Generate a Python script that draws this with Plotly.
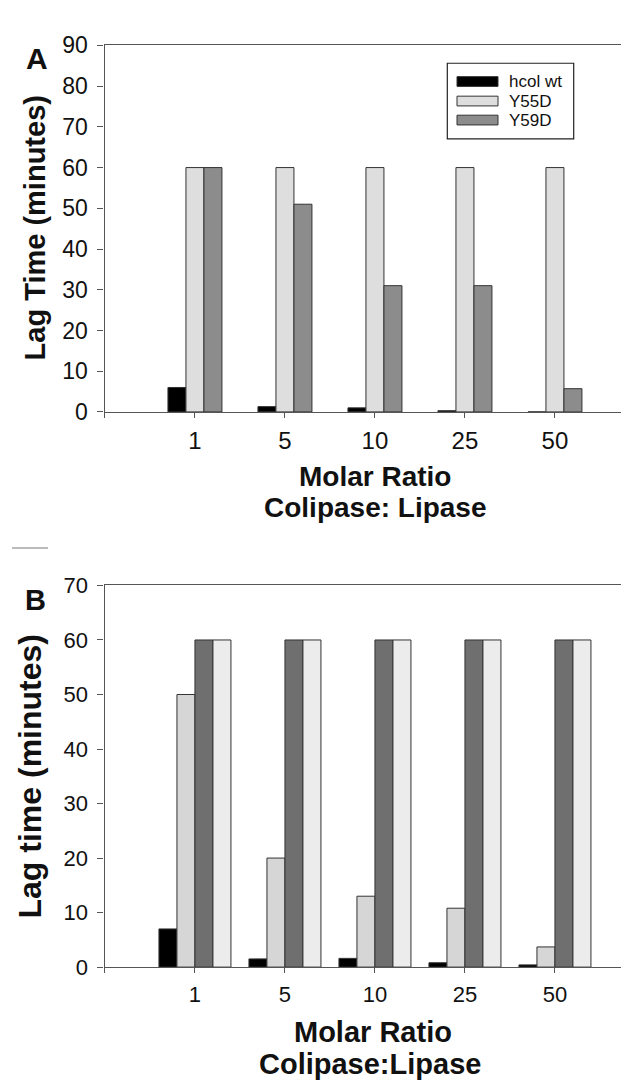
import plotly.graph_objects as go

# ---------------- data ----------------
categories = ["1", "5", "10", "25", "50"]

a_names = ["hcol wt", "Y55D", "Y59D"]
a_hcol_wt = [6, 1.3, 1.0, 0.3, 0]
a_y55d = [60, 60, 60, 60, 60]
a_y59d = [60, 51, 31, 31, 5.7]

b_names = ["hcol wt", "mutant 1", "mutant 2", "mutant 3"]
b_s1 = [7, 1.5, 1.6, 0.8, 0.4]
b_s2 = [50, 20, 13, 10.8, 3.7]
b_s3 = [60, 60, 60, 60, 60]
b_s4 = [60, 60, 60, 60, 60]

a_yticks = list(range(0, 91, 10))
b_yticks = list(range(0, 71, 10))

# ---------------- styling ----------------
W, H = 629, 1086
def px(x):
    return x / W
def py(y):
    return 1 - y / H

a_colors = ["#000000", "#dedede", "#8c8c8c"]
b_colors = ["#000000", "#d6d6d6", "#6f6f6f", "#ececec"]
outline = "#333333"
axis_col = "#555555"
font_main = "Liberation Sans"

x_idx = list(range(len(categories)))
tickvals = [-1] + x_idx
ticktext = [""] + categories

fig = go.Figure()

a_series = [a_hcol_wt, a_y55d, a_y59d]
a_offsets = [-0.3, -0.1, 0.1]
for name, vals, col, off in zip(a_names, a_series, a_colors, a_offsets):
    fig.add_trace(go.Bar(x=x_idx, y=vals, name=name, width=0.2, offset=off,
                         marker=dict(color=col, line=dict(color=outline, width=1)),
                         xaxis="x", yaxis="y", showlegend=False))

b_series = [b_s1, b_s2, b_s3, b_s4]
b_offsets = [-0.4, -0.2, 0.0, 0.2]
for name, vals, col, off in zip(b_names, b_series, b_colors, b_offsets):
    fig.add_trace(go.Bar(x=x_idx, y=vals, name=name, width=0.2, offset=off,
                         marker=dict(color=col, line=dict(color=outline, width=1)),
                         xaxis="x2", yaxis="y2", showlegend=False))

xr = [-1.005, -1.005 + (W - 96.5) / 90.0]

common_x = dict(range=xr, tickmode="array", tickvals=tickvals, ticktext=ticktext,
                ticks="outside", ticklen=5, tickcolor=axis_col, showline=True,
                linecolor=axis_col, linewidth=1.2, mirror=True, showgrid=False,
                zeroline=False, fixedrange=True, ticklabelstandoff=2)
common_y = dict(ticks="outside", ticklen=6, tickcolor=axis_col, showline=True,
                linecolor=axis_col, linewidth=1.2, showgrid=False, zeroline=False,
                tickmode="array", ticklabelstandoff=5)

fig.update_layout(
    width=W, height=H,
    margin=dict(l=0, r=0, t=0, b=0),
    paper_bgcolor="white", plot_bgcolor="white",
    barmode="overlay",
    font=dict(family=font_main, color="#111111"),
    xaxis=dict(domain=[px(96.5), 1], anchor="y",
               tickfont=dict(size=24, family=font_main, color="#111111"),
               **common_x),
    yaxis=dict(domain=[py(400.5), py(25)], anchor="x", range=[0, 90],
               tickvals=a_yticks, tickfont=dict(size=23, family=font_main, color="#111111"),
               **common_y),
    xaxis2=dict(domain=[px(96.5), 1], anchor="y2",
                tickfont=dict(size=22, family=font_main, color="#111111"),
                **common_x),
    yaxis2=dict(domain=[py(969.3), py(578.3)], anchor="x2", range=[0, 70],
                tickvals=b_yticks, tickfont=dict(size=22, family=font_main, color="#111111"),
                **common_y),
)

anns = []
def ann(text, x, y, size, angle=0, xanchor="center"):
    anns.append(dict(text=text, x=px(x), y=py(y), xref="paper", yref="paper",
                     showarrow=False, xanchor=xanchor, yanchor="middle",
                     textangle=angle,
                     font=dict(family=font_main, size=size, color="#111111")))

# panel letters
ann("<b>A</b>", 28.5, 38, 30)
ann("<b>B</b>", 28, 593, 29)
# y titles
ann("<b>Lag Time (minutes)</b>", 27, 212.5, 29, angle=-90)
ann("<b>Lag time (minutes)</b>", 22, 774, 32, angle=-90)
# x titles
ann("<b>Molar Ratio</b>", 367, 466.5, 28)
ann("<b>Colipase: Lipase</b>", 367, 498.5, 28)
ann("<b>Molar Ratio</b>", 365, 1036, 29)
ann("<b>Colipase:Lipase</b>", 362, 1069, 29)

# legend (panel A)
shapes = []
shapes.append(dict(type="rect", xref="paper", yref="paper",
                   x0=px(439.3), x1=px(565.7), y0=py(120.7), y1=py(43.3),
                   line=dict(color="#222222", width=1.2), fillcolor="white"))
row_y = [62, 82, 101.5]
for name, col, ry in zip(a_names, a_colors, row_y):
    shapes.append(dict(type="rect", xref="paper", yref="paper",
                       x0=px(449), x1=px(490), y0=py(ry + 5), y1=py(ry - 5),
                       line=dict(color=outline, width=1), fillcolor=col))
    anns.append(dict(text=name, x=px(499), y=py(ry), xref="paper", yref="paper",
                     showarrow=False, xanchor="left", yanchor="middle",
                     font=dict(family=font_main, size=17, color="#111111")))

# scan artifact dash
shapes.append(dict(type="line", xref="paper", yref="paper",
                   x0=px(4), x1=px(40), y0=py(540), y1=py(540),
                   line=dict(color="#bbbbbb", width=2)))

fig.update_layout(annotations=anns, shapes=shapes)

fig.write_html("out.html")
